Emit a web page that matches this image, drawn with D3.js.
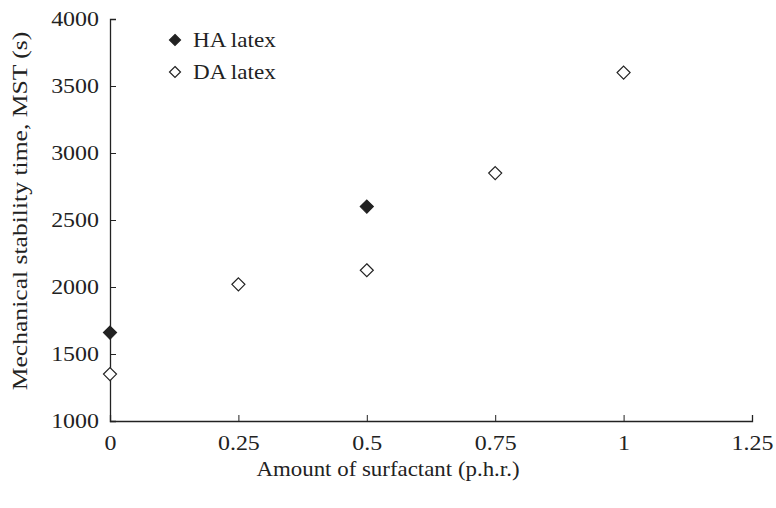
<!DOCTYPE html>
<html><head><meta charset="utf-8">
<script src="https://cdn.jsdelivr.net/npm/d3@7"></script>
<style>body{margin:0;background:#fff}svg text{font-family:"Liberation Serif","Times New Roman",serif;fill:#222}</style>
</head><body><svg id="c" width="776" height="508"></svg>
<script>
const haX = [0, 0.5];
const haY = [1660, 2600];
const daX = [0, 0.25, 0.5, 0.75, 1];
const daY = [1350, 2020, 2125, 2850, 3600];
const xTicks = [0, 0.25, 0.5, 0.75, 1, 1.25];
const xTickLabels = ["0", "0.25", "0.5", "0.75", "1", "1.25"];
const yTicks = [1000, 1500, 2000, 2500, 3000, 3500, 4000];
const seriesNames = ["HA latex", "DA latex"];

const svg = d3.select("#c");
const x = d3.scaleLinear().domain([0, 1.25]).range([110, 752]);
const y = d3.scaleLinear().domain([1000, 4000]).range([421, 19]);
const FS = 21, SX = 1.14;
const col = "#222";

const xa = svg.append("g").attr("transform", "translate(0,421)")
  .call(d3.axisBottom(x).tickValues(xTicks).tickSizeInner(-6).tickSizeOuter(-6).tickFormat((d, i) => xTickLabels[i]));
xa.select(".domain").attr("stroke", col).attr("stroke-width", 1.3);
xa.selectAll(".tick line").attr("stroke", col);
xa.selectAll(".tick text").attr("font-size", FS).attr("y", 0).attr("dy", 0)
  .attr("transform", "translate(0,29) scale(" + SX + ",1)").attr("font-family", null);

const ya = svg.append("g").attr("transform", "translate(110,0)")
  .call(d3.axisLeft(y).tickValues(yTicks).tickSizeInner(-6).tickSizeOuter(-6).tickFormat(d3.format("d")));
ya.select(".domain").attr("stroke", col).attr("stroke-width", 1.3);
ya.selectAll(".tick line").attr("stroke", col);
ya.selectAll(".tick text").attr("font-size", FS).attr("x", 0).attr("dy", "0.33em")
  .attr("transform", "translate(-11,0) scale(" + SX + ",1)").attr("font-family", null);

const diamond = (cx, cy, r) => `M${cx},${cy - r}L${cx + r},${cy}L${cx},${cy + r}L${cx - r},${cy}Z`;
const R = 6.5;

svg.append("g").selectAll("path").data(daX.map((d, i) => [d, daY[i]])).join("path")
  .attr("d", d => diamond(x(d[0]), y(d[1]), R)).attr("fill", "#fff").attr("stroke", col).attr("stroke-width", 1.2);
svg.append("g").selectAll("path").data(haX.map((d, i) => [d, haY[i]])).join("path")
  .attr("d", d => diamond(x(d[0]), y(d[1]), R)).attr("fill", col).attr("stroke", col).attr("stroke-width", 1.2);

// legend
const lg = svg.append("g");
[[40, col], [72, "#fff"]].forEach((p, i) => {
  lg.append("path").attr("d", diamond(175, p[0], 5.5)).attr("fill", p[1]).attr("stroke", col).attr("stroke-width", 1.2);
  lg.append("text").attr("font-size", FS).attr("transform", `translate(193,${p[0] + 7}) scale(1.1,1)`).text(seriesNames[i]);
});

svg.append("text").attr("font-size", FS).attr("text-anchor", "middle")
  .attr("transform", "translate(388,476) scale(1.09,1)").text("Amount of surfactant (p.h.r.)");
svg.append("text").attr("font-size", FS).attr("text-anchor", "middle")
  .attr("transform", "translate(27,211) rotate(-90) scale(1.22,1)").text("Mechanical stability time, MST (s)");
</script></body></html>
